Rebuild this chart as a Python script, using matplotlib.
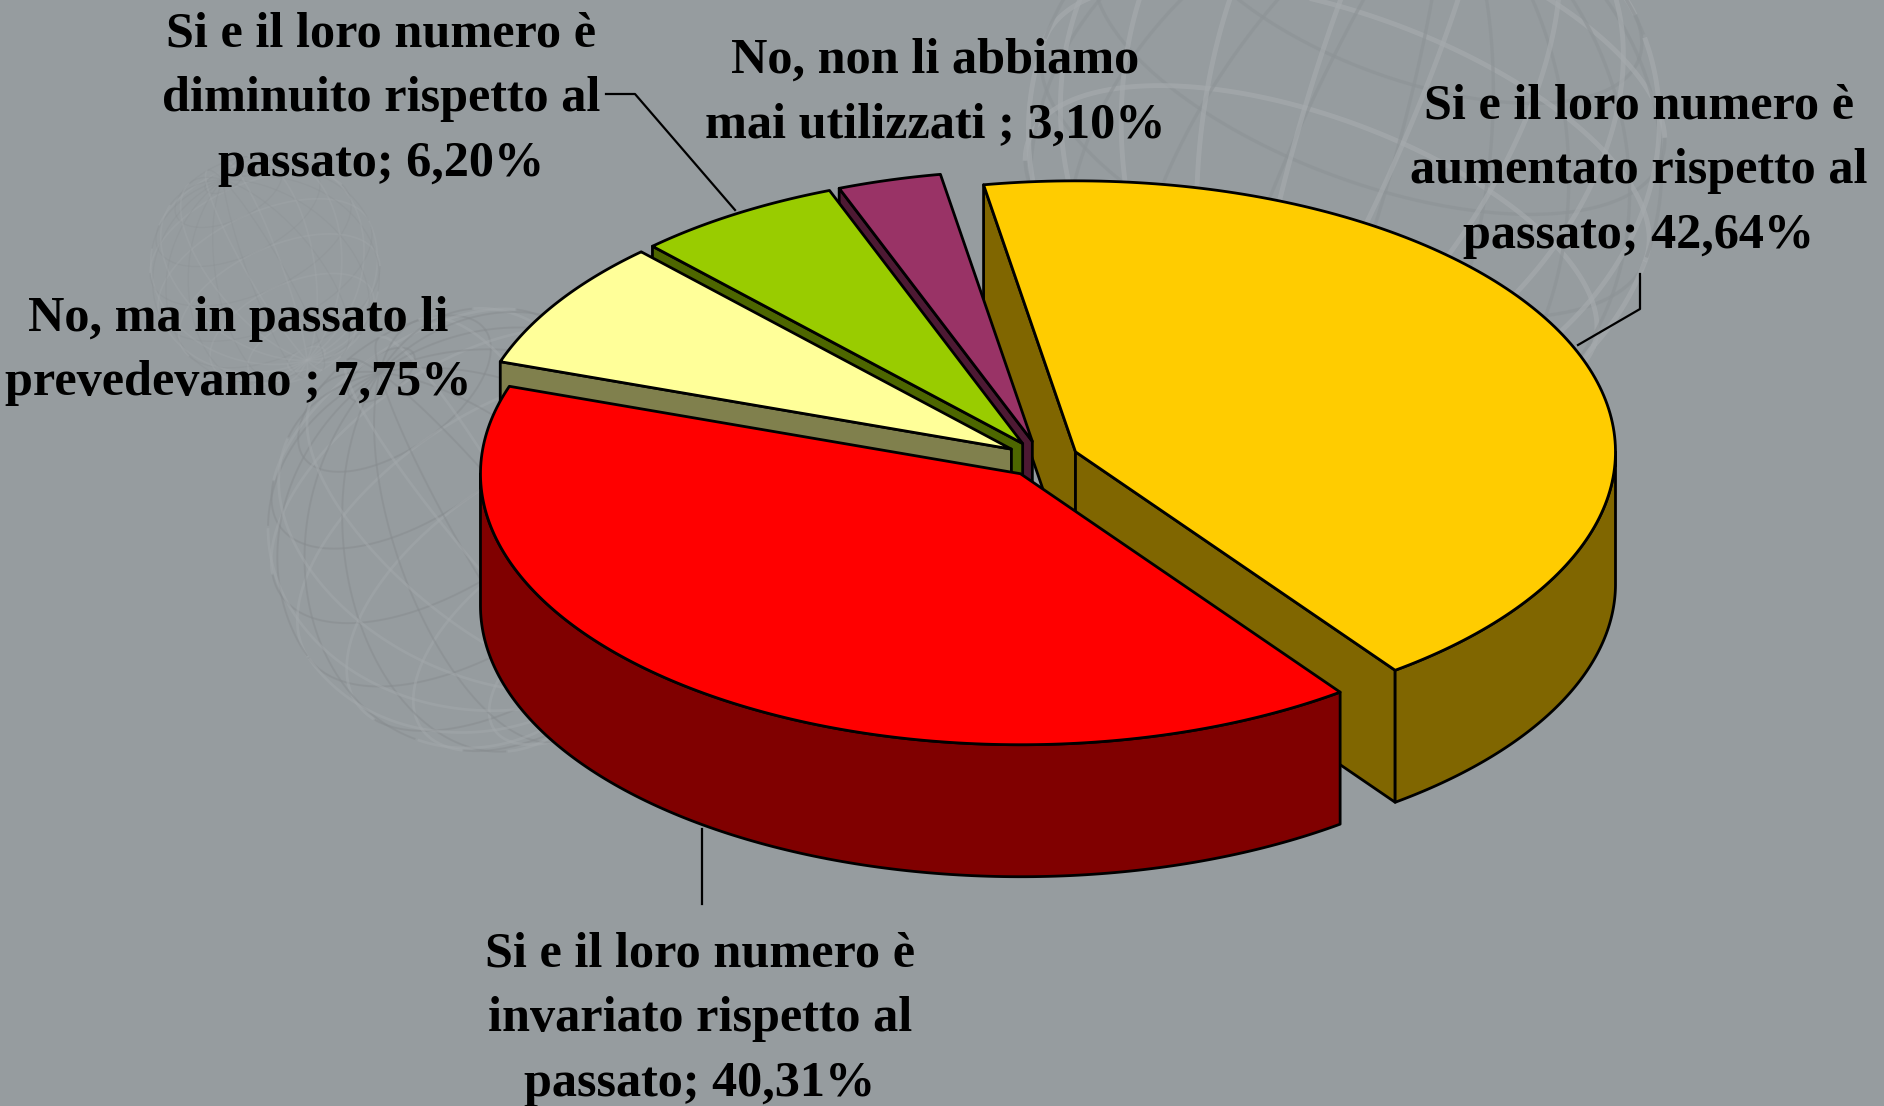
import numpy as np
import matplotlib
matplotlib.use("Agg")
import matplotlib.pyplot as plt
from matplotlib.patches import Polygon

plt.rcParams["font.family"] = ["Liberation Serif", "DejaVu Serif"]

LABELS = [
    "Si e il loro numero è\naumentato rispetto al\npassato",
    "Si e il loro numero è\ninvariato rispetto al\npassato",
    "No, ma in passato li\nprevedevamo ",
    "Si e il loro numero è\ndiminuito rispetto al\npassato",
    "No, non li abbiamo\nmai utilizzati ",
]
VALUES = [42.64, 40.31, 7.75, 6.20, 3.10]
TOPS = ["#FFCC00", "#FF0000", "#FFFF99", "#99CC00", "#993366"]
SIDES = ["#806600", "#800000", "#80804D", "#4D6600", "#4D1933"]
LABEL_POS = [(1639, 171), (700, 1019), (238, 351), (381, 99), (935, 93)]

BG = "#969C9F"
START_ANGLE = -9.8
CX, CY = 1042, 459
RX, RY = 540, 271
DEPTH = 132
EXPLODE = 0.0674
# back to front
DRAW_ORDER = [0, 4, 3, 2, 1]


def rim(ax_x, ax_y, a0, a1, drop=0):
    # angles are clockwise from 12 o'clock
    t = np.radians(np.linspace(a0, a1, 160))
    return np.column_stack([ax_x + RX * np.sin(t), ax_y - RY * np.cos(t) + drop])


def add_poly(ax, pts, color):
    ax.add_patch(Polygon(pts, closed=True, facecolor=color, edgecolor="black",
                         linewidth=2.0, joinstyle="round", zorder=5))


def draw_sphere(ax, cx, cy, r, tilt, spin, light, dark, lw, alpha):
    tilt = np.radians(tilt)
    spin = np.radians(spin)
    curves = []
    u = np.linspace(0, 2 * np.pi, 200)
    for lat in np.radians(np.arange(-80, 81, 20)):
        curves.append((np.cos(lat) * np.cos(u), np.cos(lat) * np.sin(u), np.full_like(u, np.sin(lat))))
    v = np.linspace(-np.pi / 2, np.pi / 2, 120)
    for lon in np.radians(np.arange(0, 360, 20)):
        curves.append((np.cos(v) * np.cos(lon), np.cos(v) * np.sin(lon), np.sin(v)))
    for x, y, z in curves:
        y2 = y * np.cos(tilt) - z * np.sin(tilt)
        z2 = y * np.sin(tilt) + z * np.cos(tilt)
        x3 = x * np.cos(spin) - z2 * np.sin(spin)
        z3 = x * np.sin(spin) + z2 * np.cos(spin)
        front = np.ma.masked_where(y2 > 0, x3)
        back = np.ma.masked_where(y2 <= 0, x3)
        ax.plot(cx + r * front, cy + r * z3, color=light, lw=lw, alpha=alpha, zorder=1)
        ax.plot(cx + r * back, cy + r * z3, color=dark, lw=lw * 0.7, alpha=alpha, zorder=1)


fig = plt.figure(figsize=(18.84, 11.06), dpi=100, facecolor=BG)
ax = fig.add_axes([0, 0, 1, 1])
ax.set_xlim(0, 1884)
ax.set_ylim(1106, 0)
ax.axis("off")

draw_sphere(ax, 1345, 150, 320, 25, 20, "#A6ABAE", "#8E9497", 3.5, 0.65)
draw_sphere(ax, 490, 530, 222, 30, -35, "#A3A8AB", "#878C8F", 2.0, 0.5)
draw_sphere(ax, 265, 270, 115, 30, -25, "#A3A8AB", "#8C9194", 1.3, 0.35)

angles = START_ANGLE + np.concatenate([[0], np.cumsum(VALUES)]) * 3.6 * 100 / sum(VALUES)

for i in DRAW_ORDER:
    a0, a1 = angles[i], angles[i + 1]
    mid = np.radians((a0 + a1) / 2)
    x0 = CX + EXPLODE * RX * np.sin(mid)
    y0 = CY - EXPLODE * RY * np.cos(mid)
    apex = np.array([[x0, y0]])
    arc = rim(x0, y0, a0, a1)
    down = np.array([0, DEPTH])

    # cut faces first, only the ones turned towards the viewer
    if i == 0:
        face = np.vstack([arc[:1], apex, apex + down, arc[:1] + down])
        add_poly(ax, face, SIDES[i])
        face = np.vstack([apex, arc[-1:], arc[-1:] + down, apex + down])
        add_poly(ax, face, SIDES[i])
    elif i >= 2:
        face = np.vstack([arc[:1], apex, apex + down, arc[:1] + down])
        add_poly(ax, face, SIDES[i])

    # outer wall, front half of the ellipse only
    lo, hi = max(a0, 90), min(a1, 270)
    if lo < hi:
        wall = rim(x0, y0, lo, hi)
        add_poly(ax, np.vstack([wall, (wall + down)[::-1]]), SIDES[i])

    add_poly(ax, np.vstack([apex, arc]), TOPS[i])

# leader lines
ax.plot([1578, 1640, 1640], [345, 309, 274], color="black", lw=1.6, zorder=6)
ax.plot([735, 635, 606], [210, 94, 94], color="black", lw=1.6, zorder=6)
ax.plot([702, 702], [829, 904], color="black", lw=1.6, zorder=6)

for label, val, (tx, ty) in zip(LABELS, VALUES, LABEL_POS):
    txt = f"{label}; {val:.2f}%".replace(".", ",")
    ax.text(tx, ty, txt, ha="center", va="center", ma="center", fontsize=36.2,
            fontweight="bold", color="black", linespacing=1.54, zorder=7)

plt.savefig("out.png", dpi=100, facecolor=BG)
